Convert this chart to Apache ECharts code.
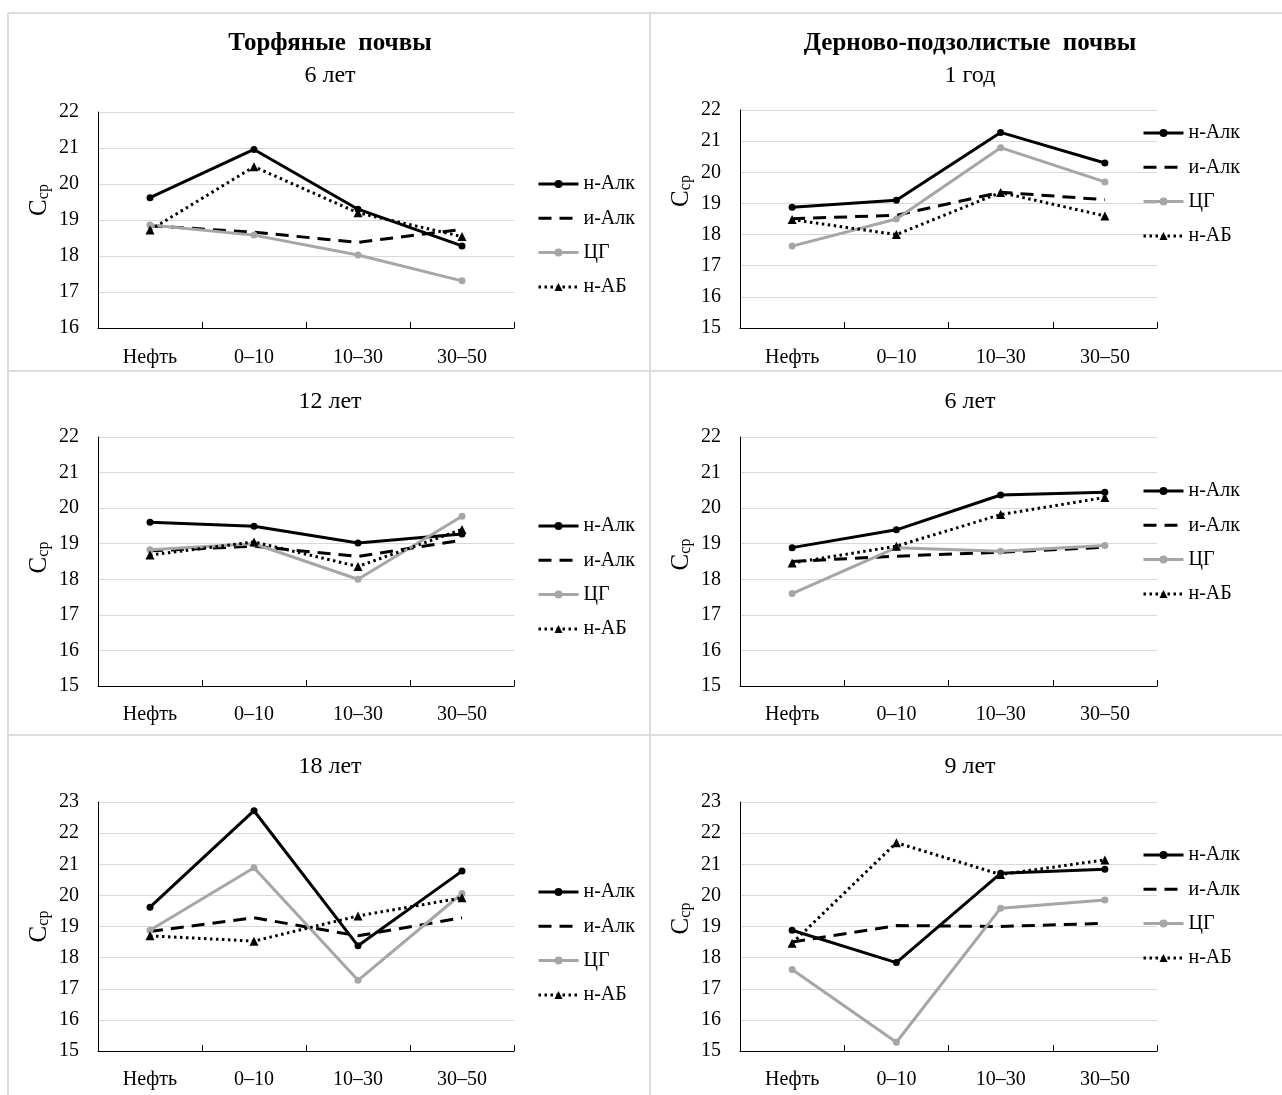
<!DOCTYPE html>
<html><head><meta charset="utf-8">
<script src="https://cdn.jsdelivr.net/npm/echarts@6/dist/echarts.min.js"></script>
<style>html,body{margin:0;padding:0;background:#fff}#c{width:1282px;height:1095px}</style>
</head><body><div id="c"></div>
<script>
// ---- data ----
const categories = ['Нефть', '0–10', '10–30', '30–50'];
const seriesNames = ['н-Алк', 'и-Алк', 'ЦГ', 'н-АБ'];

// Торфяные почвы, 6 лет
const torf6_nAlk = [19.62, 20.96, 19.30, 18.28];
const torf6_iAlk = [18.84, 18.66, 18.38, 18.74];
const torf6_CG   = [18.86, 18.58, 18.03, 17.31];
const torf6_nAB  = [18.72, 20.48, 19.20, 18.54];
// Дерново-подзолистые почвы, 1 год
const dp1_nAlk = [18.88, 19.10, 21.28, 20.30];
const dp1_iAlk = [18.51, 18.62, 19.36, 19.12];
const dp1_CG   = [17.63, 18.50, 20.79, 19.69];
const dp1_nAB  = [18.48, 18.00, 19.35, 18.60];
// Торфяные почвы, 12 лет
const torf12_nAlk = [19.60, 19.49, 19.02, 19.27];
const torf12_iAlk = [18.80, 18.93, 18.64, 19.10];
const torf12_CG   = [18.83, 19.00, 18.00, 19.77];
const torf12_nAB  = [18.68, 19.05, 18.36, 19.40];
// Дерново-подзолистые почвы, 6 лет
const dp6_nAlk = [18.89, 19.39, 20.37, 20.45];
const dp6_iAlk = [18.50, 18.65, 18.76, 18.90];
const dp6_CG   = [17.60, 18.89, 18.79, 18.95];
const dp6_nAB  = [18.46, 18.93, 19.82, 20.30];
// Торфяные почвы, 18 лет
const torf18_nAlk = [19.62, 22.72, 18.38, 20.78];
const torf18_iAlk = [18.84, 19.28, 18.70, 19.28];
const torf18_CG   = [18.88, 20.89, 17.27, 20.06];
const torf18_nAB  = [18.70, 18.53, 19.34, 19.92];
// Дерново-подзолистые почвы, 9 лет
const dp9_nAlk = [18.88, 17.84, 20.71, 20.84];
const dp9_iAlk = [18.50, 19.03, 19.00, 19.10];
const dp9_CG   = [17.62, 15.28, 19.59, 19.85];
const dp9_nAB  = [18.46, 21.69, 20.67, 21.14];

const headings = ['Торфяные  почвы', 'Дерново-подзолистые  почвы'];
const subTitles = ['6 лет', '1 год', '12 лет', '6 лет', '18 лет', '9 лет'];
const yRanges = [[16, 22], [15, 22], [15, 22], [15, 22], [15, 23], [15, 23]];
const yTitle = 'С';
const yTitleSub = 'ср';

// ---- layout ----
const FONT = "'Liberation Serif', 'Times New Roman', serif";
const panelData = [
  [torf6_nAlk, torf6_iAlk, torf6_CG, torf6_nAB],
  [dp1_nAlk, dp1_iAlk, dp1_CG, dp1_nAB],
  [torf12_nAlk, torf12_iAlk, torf12_CG, torf12_nAB],
  [dp6_nAlk, dp6_iAlk, dp6_CG, dp6_nAB],
  [torf18_nAlk, torf18_iAlk, torf18_CG, torf18_nAB],
  [dp9_nAlk, dp9_iAlk, dp9_CG, dp9_nAB]
];
const layouts = [
  {grid: {left: 98, top: 112, width: 416, height: 216}, legend: {left: 537, top: 174}, cx: 330, subTop: 59, nameShift: 40, labelMargin: 20},
  {grid: {left: 740, top: 110, width: 417, height: 218}, legend: {left: 1142, top: 123}, cx: 970, subTop: 59, nameShift: 56, labelMargin: 20},
  {grid: {left: 98, top: 437, width: 416, height: 249}, legend: {left: 537, top: 516}, cx: 330, subTop: 385, nameShift: 8, labelMargin: 19},
  {grid: {left: 740, top: 437, width: 417, height: 249}, legend: {left: 1142, top: 481}, cx: 970, subTop: 385, nameShift: 14, labelMargin: 19},
  {grid: {left: 98, top: 802, width: 416, height: 249}, legend: {left: 537, top: 882}, cx: 330, subTop: 750, nameShift: 0, labelMargin: 19},
  {grid: {left: 740, top: 802, width: 417, height: 249}, legend: {left: 1142, top: 845}, cx: 970, subTop: 750, nameShift: 16, labelMargin: 19}
];
const styles = [
  {color: '#000000', width: 3, type: 'solid', symbol: 'circle', size: 7},
  {color: '#000000', width: 3, type: [13, 8], symbol: 'none', size: 0},
  {color: '#a6a6a6', width: 3, type: 'solid', symbol: 'circle', size: 7},
  {color: '#000000', width: 3, type: [2.5, 3.5], symbol: 'triangle', size: 9}
];

const option = {
  backgroundColor: '#ffffff',
  animation: false,
  title: [], grid: [], xAxis: [], yAxis: [], legend: [], series: [],
  graphic: []
};

// headings
option.title.push({text: headings[0], left: 330, top: 31, textAlign: 'center', padding: 0,
  textStyle: {fontFamily: FONT, fontSize: 25, fontWeight: 'bold', color: '#000'}});
option.title.push({text: headings[1], left: 970, top: 31, textAlign: 'center', padding: 0,
  textStyle: {fontFamily: FONT, fontSize: 25, fontWeight: 'bold', color: '#000'}});

layouts.forEach((L, i) => {
  option.title.push({text: subTitles[i], left: L.cx, top: L.subTop + 5, textAlign: 'center', padding: 0,
    textStyle: {fontFamily: FONT, fontSize: 24, fontWeight: 'normal', color: '#000'}});
  option.grid.push(Object.assign({containLabel: false}, L.grid));
  option.xAxis.push({
    type: 'category', gridIndex: i, data: categories, boundaryGap: true,
    axisLine: {lineStyle: {color: '#000', width: 1}},
    axisTick: {show: true, inside: true, length: 6, lineStyle: {color: '#000'}},
    axisLabel: {fontFamily: FONT, fontSize: 20, color: '#000', margin: L.labelMargin},
    splitLine: {show: false}
  });
  option.yAxis.push({
    type: 'value', gridIndex: i, min: yRanges[i][0], max: yRanges[i][1], interval: 1,
    axisLine: {show: true, lineStyle: {color: '#000', width: 1}},
    axisTick: {show: false},
    axisLabel: {fontFamily: FONT, fontSize: 20, color: '#000', margin: 19},
    splitLine: {show: true, lineStyle: {color: '#d9d9d9', width: 1}},
    name: '{a|' + yTitle + '}{b|' + yTitleSub + '}',
    nameLocation: 'middle', nameGap: 46, nameRotate: 90,
    nameTextStyle: {fontFamily: FONT, color: '#000', padding: [0, 0, 0, L.nameShift],
      rich: {a: {fontFamily: FONT, fontSize: 25, color: '#000'},
             b: {fontFamily: FONT, fontSize: 16, color: '#000', verticalAlign: 'bottom', padding: [7, 0, 0, 0]}}}
  });
  option.legend.push({
    data: seriesNames.map((n, k) => ({
      name: n,
      lineStyle: {width: styles[k].width, type: styles[k].type, color: styles[k].color},
      itemStyle: styles[k].symbol === 'none' ? {opacity: 0} : {color: styles[k].color}
    })),
    orient: 'vertical', left: L.legend.left, top: L.legend.top, padding: 0,
    itemWidth: 40, itemHeight: 10, itemGap: 14.3,
    textStyle: {fontFamily: FONT, fontSize: 20, color: '#000'}
  });
  panelData[i].forEach((vals, k) => {
    const s = styles[k];
    option.series.push({
      type: 'line', name: seriesNames[k], xAxisIndex: i, yAxisIndex: i, data: vals,
      symbol: s.symbol, symbolSize: s.size, showSymbol: s.symbol !== 'none',
      lineStyle: {color: s.color, width: s.width, type: s.type},
      itemStyle: {color: s.color},
      emphasis: {disabled: true}, z: 2 + k
    });
  });
});

// panel frame lines
const frameColor = '#dcdcdc';
[[8, 13, 1282, 13], [8, 371, 1282, 371], [8, 735, 1282, 735], [8, 13, 8, 1095], [650, 13, 650, 1095]].forEach(p => {
  option.graphic.push({type: 'line', silent: true, z: -1,
    shape: {x1: p[0], y1: p[1], x2: p[2], y2: p[3]}, style: {stroke: frameColor, lineWidth: 2}});
});

const chart = echarts.init(document.getElementById('c'), null, {renderer: 'canvas'});
chart.setOption(option);
</script>
</body></html>
